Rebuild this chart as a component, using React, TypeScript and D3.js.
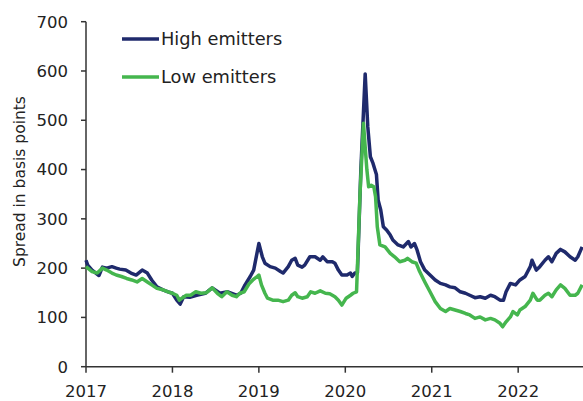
import React from "react";
import * as d3 from "d3";

const highDates = [2017.0,2017.02,2017.07,2017.15,2017.19,2017.24,2017.3,2017.35,2017.39,2017.46,2017.52,2017.58,2017.65,2017.71,2017.76,2017.82,2017.89,2017.95,2018.0,2018.05,2018.09,2018.13,2018.2,2018.28,2018.38,2018.46,2018.55,2018.64,2018.74,2018.79,2018.84,2018.9,2018.94,2019.0,2019.04,2019.07,2019.13,2019.19,2019.25,2019.28,2019.34,2019.38,2019.42,2019.45,2019.5,2019.53,2019.59,2019.65,2019.71,2019.74,2019.79,2019.85,2019.88,2019.92,2019.96,2020.02,2020.06,2020.08,2020.11,2020.14,2020.18,2020.23,2020.26,2020.29,2020.32,2020.36,2020.38,2020.41,2020.44,2020.48,2020.52,2020.55,2020.61,2020.67,2020.73,2020.76,2020.8,2020.83,2020.87,2020.92,2020.98,2021.04,2021.1,2021.16,2021.21,2021.27,2021.33,2021.39,2021.44,2021.5,2021.56,2021.62,2021.68,2021.73,2021.79,2021.83,2021.86,2021.91,2021.97,2022.02,2022.08,2022.14,2022.16,2022.21,2022.25,2022.31,2022.35,2022.39,2022.44,2022.49,2022.54,2022.6,2022.66,2022.69,2022.74];
const highValues = [216,206,196,185,202,200,203,200,198,196,190,186,196,190,176,162,156,152,149,135,127,142,141,145,149,160,149,152,145,149,166,183,196,250,223,210,203,200,193,190,203,216,220,206,202,206,223,223,216,223,213,213,210,196,186,186,190,183,190,190,400,594,487,426,413,390,338,318,284,277,267,257,247,243,254,243,250,237,213,196,186,176,169,166,162,160,152,149,145,140,142,139,145,142,135,135,152,169,166,176,183,203,216,196,203,216,223,213,230,238,233,223,216,223,243];

const lowDates = [2017.0,2017.07,2017.13,2017.19,2017.24,2017.3,2017.35,2017.41,2017.47,2017.53,2017.59,2017.65,2017.71,2017.76,2017.82,2017.89,2017.95,2018.0,2018.05,2018.08,2018.11,2018.16,2018.21,2018.27,2018.33,2018.39,2018.46,2018.52,2018.57,2018.63,2018.69,2018.74,2018.78,2018.83,2018.89,2018.93,2018.98,2019.0,2019.03,2019.07,2019.1,2019.16,2019.22,2019.28,2019.34,2019.38,2019.42,2019.45,2019.5,2019.56,2019.6,2019.65,2019.71,2019.77,2019.82,2019.88,2019.92,2019.96,2020.01,2020.06,2020.09,2020.13,2020.17,2020.21,2020.23,2020.25,2020.27,2020.3,2020.33,2020.35,2020.37,2020.4,2020.46,2020.52,2020.57,2020.63,2020.69,2020.72,2020.77,2020.82,2020.86,2020.92,2020.98,2021.04,2021.1,2021.16,2021.21,2021.27,2021.33,2021.39,2021.44,2021.5,2021.56,2021.62,2021.68,2021.73,2021.79,2021.82,2021.86,2021.91,2021.94,2021.99,2022.02,2022.08,2022.14,2022.17,2022.22,2022.25,2022.31,2022.35,2022.39,2022.44,2022.49,2022.54,2022.6,2022.66,2022.69,2022.74];
const lowValues = [203,193,190,200,196,190,186,183,179,176,172,179,172,166,159,156,152,149,145,135,139,145,145,152,149,150,160,149,142,152,145,142,149,152,169,176,183,186,166,149,139,135,135,132,135,145,150,142,139,142,152,149,154,149,148,142,135,125,139,145,149,152,350,494,446,399,365,368,365,345,284,247,243,230,223,213,216,220,213,210,193,172,152,132,118,112,118,115,112,108,105,98,101,95,98,95,88,81,91,101,112,105,115,122,135,149,135,135,145,149,142,156,166,159,145,145,149,166];

const yTicks = [0, 100, 200, 300, 400, 500, 600, 700];
const xTicks = [2017, 2018, 2019, 2020, 2021, 2022];
const seriesNames = ["High emitters", "Low emitters"];
const seriesColors = ["#1f2a6c", "#45b64e"];

const W = 583;
const H = 401;

export default function App() {
  const x = d3.scaleLinear().domain([2017, 2022.75]).range([86, 583]);
  const y = d3.scaleLinear().domain([0, 700]).range([366.7, 21.7]);
  const line = d3
    .line<[number, number]>()
    .x((d) => x(d[0]))
    .y((d) => y(d[1]));
  const high = highDates.map((d, i) => [d, highValues[i]] as [number, number]);
  const low = lowDates.map((d, i) => [d, lowValues[i]] as [number, number]);
  const font = "'DejaVu Sans', Verdana, sans-serif";
  const axisColor = "#333";
  const textColor = "#222";

  return (
    <svg
      width={W}
      height={H}
      style={{ position: "absolute", left: 0, top: 0, background: "#fff" }}
      fontFamily={font}
    >
      <rect x={0} y={0} width={W} height={H} fill="#fff" />
      {/* y axis */}
      <line x1={x(2017)} x2={x(2017)} y1={y(0)} y2={y(700)} stroke={axisColor} strokeWidth={1.5} />
      {yTicks.map((t) => (
        <g key={t}>
          <line x1={x(2017) - 5} x2={x(2017)} y1={y(t)} y2={y(t)} stroke={axisColor} strokeWidth={1.5} />
          <text x={68} y={y(t)} dy="0.36em" textAnchor="end" fontSize={16.5} fill={textColor}>
            {t}
          </text>
        </g>
      ))}
      {/* x axis */}
      <line x1={x(2017)} x2={W} y1={y(0)} y2={y(0)} stroke={axisColor} strokeWidth={1.5} />
      {xTicks.map((t) => (
        <g key={t}>
          <line x1={x(t)} x2={x(t)} y1={y(0)} y2={y(0) + 6} stroke={axisColor} strokeWidth={1.5} />
          <text x={x(t)} y={397} textAnchor="middle" fontSize={16.5} fill={textColor}>
            {t}
          </text>
        </g>
      ))}
      <text
        transform={`translate(25, ${(95 + 268) / 2}) rotate(-90)`}
        textAnchor="middle"
        fontSize={15.5}
        fill={textColor}
      >
        Spread in basis points
      </text>
      {/* series */}
      <path d={line(high) || ""} fill="none" stroke={seriesColors[0]} strokeWidth={3.5} strokeLinejoin="round" />
      <path d={line(low) || ""} fill="none" stroke={seriesColors[1]} strokeWidth={3.5} strokeLinejoin="round" />
      {/* legend */}
      {seriesNames.map((n, i) => (
        <g key={n} transform={`translate(122, ${39 + i * 38})`}>
          <line x1={0} x2={37} y1={0} y2={0} stroke={seriesColors[i]} strokeWidth={3.5} />
          <text x={39} y={0} dy="0.36em" fontSize={17.8} fill={textColor}>
            {n}
          </text>
        </g>
      ))}
    </svg>
  );
}
